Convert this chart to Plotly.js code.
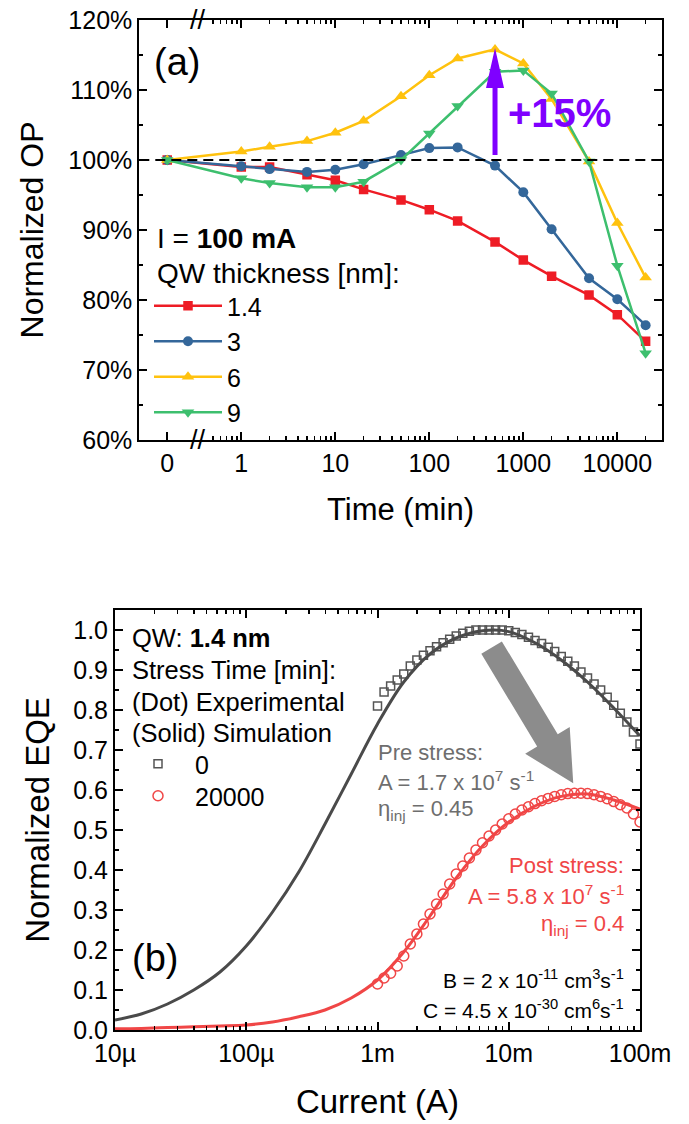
<!DOCTYPE html>
<html><head><meta charset="utf-8">
<script src="https://cdn.plot.ly/plotly-3.0.1.min.js"></script>
<style>html,body{margin:0;padding:0;background:#fff}#chart{width:689px;height:1124px}</style>
</head><body><div id="chart"></div>
<script>
// ---------------- Panel (a): normalized optical power vs stress time ----------------
const timeMin = [0, 1, 2, 5, 10, 20, 50, 100, 200, 500, 1000, 2000, 5000, 10000, 20000];
const timeTickLabels = ['0', '1', '10', '100', '1000', '10000'];
const timeTickVals = [0, 1, 10, 100, 1000, 10000];
const qwNames = ['1.4', '3', '6', '9'];
const op_1p4 = [100, 99.0, 99.0, 97.9, 97.1, 95.8, 94.3, 92.9, 91.3, 88.3, 85.7, 83.4, 80.7, 77.9, 74.1];
const op_3   = [100, 99.1, 98.7, 98.3, 98.6, 99.4, 100.7, 101.7, 101.8, 99.2, 95.4, 90.1, 83.1, 80.1, 76.4];
const op_6   = [100, 101.2, 101.9, 102.7, 103.9, 105.6, 109.1, 112.1, 114.5, 115.8, 113.8, 108.7, 99.8, 91.0, 83.2];
const op_9   = [100, 97.4, 96.7, 96.1, 96.1, 96.9, 100.0, 103.8, 107.7, 112.6, 112.8, 109.5, 99.8, 84.9, 72.4];

// ---------------- Panel (b): normalized EQE vs current ----------------
const simCurrent = [1e-5, 1.585e-5, 2.512e-5, 3.981e-5, 6.31e-5, 1e-4, 1.585e-4, 2.512e-4, 3.981e-4, 6.31e-4,
  1e-3, 1.585e-3, 2.512e-3, 3.981e-3, 6.31e-3, 1e-2, 1.585e-2, 2.512e-2, 3.981e-2, 6.31e-2, 1e-1];
const simPre  = [0.025, 0.040, 0.065, 0.100, 0.145, 0.210, 0.295, 0.395, 0.515, 0.640, 0.765, 0.870, 0.940, 0.980, 0.998,
  0.996, 0.968, 0.925, 0.870, 0.805, 0.735];
const simPost = [0.003, 0.004, 0.006, 0.008, 0.010, 0.0125, 0.020, 0.033, 0.050, 0.080, 0.125, 0.195, 0.285, 0.380, 0.460,
  0.520, 0.560, 0.584, 0.590, 0.575, 0.552];
const expCurrent = [1.000e-3, 1.122e-3, 1.259e-3, 1.413e-3, 1.585e-3, 1.778e-3, 1.995e-3, 2.239e-3, 2.512e-3, 2.818e-3,
  3.162e-3, 3.548e-3, 3.981e-3, 4.467e-3, 5.012e-3, 5.623e-3, 6.310e-3, 7.079e-3, 7.943e-3, 8.913e-3,
  1.000e-2, 1.122e-2, 1.259e-2, 1.413e-2, 1.585e-2, 1.778e-2, 1.995e-2, 2.239e-2, 2.512e-2, 2.818e-2,
  3.162e-2, 3.548e-2, 3.981e-2, 4.467e-2, 5.012e-2, 5.623e-2, 6.310e-2, 7.079e-2, 7.943e-2, 8.913e-2, 1.000e-1];
const expPre = [0.810, 0.845, 0.860, 0.875, 0.890, 0.910, 0.925, 0.937, 0.948, 0.958,
  0.968, 0.977, 0.985, 0.992, 0.997, 1.000, 1.000, 1.000, 1.000, 1.000,
  0.998, 0.994, 0.989, 0.982, 0.974, 0.966, 0.957, 0.946, 0.934, 0.922,
  0.910, 0.895, 0.880, 0.865, 0.850, 0.832, 0.812, 0.792, 0.770, 0.745, 0.715];
const expPost = [0.115, 0.130, 0.142, 0.160, 0.185, 0.215, 0.240, 0.265, 0.290, 0.315,
  0.340, 0.365, 0.390, 0.410, 0.430, 0.450, 0.468, 0.485, 0.500, 0.515,
  0.528, 0.540, 0.550, 0.558, 0.566, 0.573, 0.579, 0.584, 0.588, 0.591,
  0.592, 0.592, 0.591, 0.588, 0.584, 0.578, 0.571, 0.563, 0.555, 0.540, 0.520];
const stressNames = ['0', '20000'];
const currentTickVals = [1e-5, 1e-4, 1e-3, 1e-2, 1e-1];
const currentTickLabels = ['10\u00b5', '100\u00b5', '1m', '10m', '100m'];

// ---------------- geometry / style ----------------
const FONT = 'Liberation Sans, Arial, Helvetica, sans-serif';
const W = 689, H = 1124;
const boxA = {l: 139.3, r: 661.7, t: 20, b: 440};
const boxB = {l: 115, r: 640, t: 610, b: 1030};
const xRangeA = [-1.085, 4.472], yRangeA = [60, 120];
const xRangeB = [-5, -1], yRangeB = [0, 1.05];
const ZERO_LOG = -0.788;             // where t = 0 sits left of the axis break
const zeroPos = Math.pow(10, ZERO_LOG);
const tPos = t => (t === 0 ? zeroPos : t);

const px = x => x / W;
const py = y => 1 - y / H;
const xA = t => boxA.l + (Math.log10(tPos(t)) - xRangeA[0]) / (xRangeA[1] - xRangeA[0]) * (boxA.r - boxA.l);
const yA = v => boxA.b - (v - yRangeA[0]) / (yRangeA[1] - yRangeA[0]) * (boxA.b - boxA.t);
const xB = c => boxB.l + (Math.log10(c) - xRangeB[0]) / (xRangeB[1] - xRangeB[0]) * (boxB.r - boxB.l);
const yB = v => boxB.b - (v - yRangeB[0]) / (yRangeB[1] - yRangeB[0]) * (boxB.b - boxB.t);

function arrowPath(x0, y0, x1, y1, sh, hh, hl) {
  const dx = x1 - x0, dy = y1 - y0, L = Math.hypot(dx, dy);
  const ux = dx / L, uy = dy / L, nx = -uy, ny = ux;
  const bx = x1 - ux * hl, by = y1 - uy * hl;
  const pts = [[x0 + nx * sh, y0 + ny * sh], [bx + nx * sh, by + ny * sh], [bx + nx * hh, by + ny * hh], [x1, y1],
    [bx - nx * hh, by - ny * hh], [bx - nx * sh, by - ny * sh], [x0 - nx * sh, y0 - ny * sh]];
  return 'M' + pts.map(p => px(p[0]).toFixed(5) + ',' + py(p[1]).toFixed(5)).join('L') + 'Z';
}

const minorA = [0.5, 0.6, 0.7, 0.8, 0.9];
for (let d = 0; d <= 4; d++) for (let k = 2; k <= 9; k++) { const v = k * Math.pow(10, d); if (Math.log10(v) < xRangeA[1]) minorA.push(v); }
const minorB = [];
for (let d = -5; d <= -2; d++) for (let k = 2; k <= 9; k++) minorB.push(k * Math.pow(10, d));

const axBase = {
  showline: true, linecolor: 'black', linewidth: 2, mirror: 'ticks',
  ticks: 'inside', ticklen: 8, tickwidth: 2, tickcolor: 'black',
  showgrid: false, zeroline: false, fixedrange: true,
  tickfont: {size: 25, color: 'black', family: FONT}
};
const minorStyle = {ticks: 'inside', ticklen: 4, tickwidth: 1.5, tickcolor: 'black', showgrid: false};

// ---------------- traces ----------------
const colorsA = ['#ee1c25', '#34679a', '#ffc20e', '#3dbf6e'];
const symbolsA = ['square', 'circle', 'triangle-up', 'triangle-down'];
const sizesA = [9.5, 10, 11, 11];
const seriesA = [op_1p4, op_3, op_6, op_9];
const traces = [];
seriesA.forEach((ys, i) => traces.push({
  x: timeMin.map(tPos), y: ys, type: 'scatter', mode: 'lines+markers', name: qwNames[i],
  line: {color: colorsA[i], width: 2.5},
  marker: {symbol: symbolsA[i], size: sizesA[i], color: colorsA[i]},
  xaxis: 'x', yaxis: 'y', legend: 'legend', hoverinfo: 'skip'
}));
const grayC = '#555555', redC = '#f04646';
traces.push({x: expCurrent, y: expPre, type: 'scatter', mode: 'markers', name: stressNames[0],
  marker: {symbol: 'square-open', size: 8, color: grayC, line: {width: 1.5}},
  xaxis: 'x2', yaxis: 'y2', legend: 'legend2', hoverinfo: 'skip'});
traces.push({x: expCurrent, y: expPost, type: 'scatter', mode: 'markers', name: stressNames[1],
  marker: {symbol: 'circle-open', size: 10, color: redC, line: {width: 1.5}},
  xaxis: 'x2', yaxis: 'y2', legend: 'legend3', hoverinfo: 'skip'});
traces.push({x: simCurrent, y: simPre, type: 'scatter', mode: 'lines', showlegend: false,
  line: {color: '#4a4a4a', width: 3, shape: 'spline'}, xaxis: 'x2', yaxis: 'y2', hoverinfo: 'skip'});
traces.push({x: simCurrent, y: simPost, type: 'scatter', mode: 'lines', showlegend: false,
  line: {color: redC, width: 3, shape: 'spline'}, xaxis: 'x2', yaxis: 'y2', hoverinfo: 'skip'});

// ---------------- annotations ----------------
function txt(text, x, y, size, opts = {}) {
  return Object.assign({text, xref: 'paper', yref: 'paper', x: px(x), y: py(y), xanchor: 'left', yanchor: 'middle',
    showarrow: false, font: {size, color: 'black', family: FONT}}, opts);
}
const purple = '#7f00ff';
const grayText = '#6e6e6e';
const annotations = [
  txt('(a)', 152, 62, 38),
  txt('<b>+15%</b>', 506, 113, 40, {font: {size: 40, color: purple, family: FONT}}),
  txt('I = <b>100 mA</b>', 155, 238, 28),
  txt('QW thickness [nm]:', 155, 273, 28),
  txt('//', xA(0) + 31, boxA.b, 27, {xanchor: 'center'}),
  txt('//', xA(0) + 31, boxA.t, 27, {xanchor: 'center'}),
  txt('(b)', 130, 958, 38),
  txt('QW: <b>1.4 nm</b>', 130, 638, 25.5),
  txt('Stress Time [min]:', 130, 670, 25.5),
  txt('(Dot) Experimental', 130, 702, 25.5),
  txt('(Solid) Simulation', 130, 733, 25.5),
  txt('Pre stress:', 376, 752, 22, {font: {size: 22, color: grayText, family: FONT}}),
  txt('A = 1.7 x 10<sup>7</sup> s<sup>-1</sup>', 376, 781, 22, {font: {size: 22, color: grayText, family: FONT}}),
  txt('\u03b7<sub>inj</sub> = 0.45', 376, 810, 22, {font: {size: 22, color: grayText, family: FONT}}),
  txt('Post stress:', 626, 865, 22, {xanchor: 'right', font: {size: 22, color: redC, family: FONT}}),
  txt('A = 5.8 x 10<sup>7</sup> s<sup>-1</sup>', 626, 895, 22, {xanchor: 'right', font: {size: 22, color: redC, family: FONT}}),
  txt('\u03b7<sub>inj</sub> = 0.4', 626, 925, 22, {xanchor: 'right', font: {size: 22, color: redC, family: FONT}}),
  txt('B = 2 x 10<sup>-11</sup> cm<sup>3</sup>s<sup>-1</sup>', 626, 979, 21, {xanchor: 'right'}),
  txt('C = 4.5 x 10<sup>-30</sup> cm<sup>6</sup>s<sup>-1</sup>', 626, 1009, 21, {xanchor: 'right'})
];

// ---------------- shapes ----------------
const shapes = [
  {type: 'line', xref: 'paper', yref: 'y', x0: px(boxA.l), x1: px(boxA.r), y0: 100, y1: 100,
   line: {color: 'black', width: 2, dash: '10px,6px'}},
  {type: 'path', xref: 'paper', yref: 'paper', path: arrowPath(xA(500), yA(100.7), xA(500), yA(116.0), 2.5, 9, 40),
   fillcolor: purple, line: {width: 0}},
  {type: 'path', xref: 'paper', yref: 'paper', path: arrowPath(xB(7.4e-3), yB(0.956), xB(3.1e-2), yB(0.617), 12, 26, 50),
   fillcolor: '#8c8c8c', line: {width: 0}}
];

const legendBase = {xanchor: 'left', yanchor: 'top', bgcolor: 'rgba(0,0,0,0)', borderwidth: 0,
  font: {size: 25, color: 'black', family: FONT}, tracegroupgap: 0};

const layout = {
  width: W, height: H, margin: {l: 0, r: 0, t: 0, b: 0},
  paper_bgcolor: 'white', plot_bgcolor: 'white',
  font: {family: FONT, color: 'black'},
  xaxis: Object.assign({}, axBase, {
    type: 'log', domain: [px(boxA.l), px(boxA.r)], range: xRangeA, anchor: 'y',
    tickmode: 'array', tickvals: timeTickVals.map(tPos), ticktext: timeTickLabels,
    minor: Object.assign({tickmode: 'array', tickvals: minorA}, minorStyle),
    title: {text: 'Time (min)', font: {size: 31, family: FONT}, standoff: 22}
  }),
  yaxis: Object.assign({}, axBase, {
    domain: [py(boxA.b), py(boxA.t)], range: yRangeA, anchor: 'x',
    tickmode: 'linear', tick0: 0, dtick: 10, ticksuffix: '%',
    minor: Object.assign({dtick: 5}, minorStyle),
    title: {text: 'Normalized OP', font: {size: 32, family: FONT}, standoff: 15}
  }),
  xaxis2: Object.assign({}, axBase, {
    type: 'log', domain: [px(boxB.l), px(boxB.r)], range: xRangeB, anchor: 'y2',
    tickmode: 'array', tickvals: currentTickVals, ticktext: currentTickLabels,
    minor: Object.assign({tickmode: 'array', tickvals: minorB}, minorStyle),
    title: {text: 'Current (A)', font: {size: 33, family: FONT}, standoff: 24}
  }),
  yaxis2: Object.assign({}, axBase, {
    domain: [py(boxB.b), py(boxB.t)], range: yRangeB, anchor: 'x2',
    tickmode: 'linear', tick0: 0, dtick: 0.1, tickformat: '.1f',
    minor: Object.assign({dtick: 0.05}, minorStyle),
    title: {text: 'Normalized EQE', font: {size: 33, family: FONT}, standoff: 14}
  }),
  legend: Object.assign({}, legendBase, {x: px(149), y: py(283), itemwidth: 68}),
  legend2: Object.assign({}, legendBase, {x: px(121), y: py(765 - 24), itemwidth: 64}),
  legend3: Object.assign({}, legendBase, {x: px(121), y: py(797 - 24), itemwidth: 64}),
  annotations, shapes, showlegend: true
};

Plotly.newPlot('chart', traces, layout, {displayModeBar: false, staticPlot: true});
</script>
</body></html>
